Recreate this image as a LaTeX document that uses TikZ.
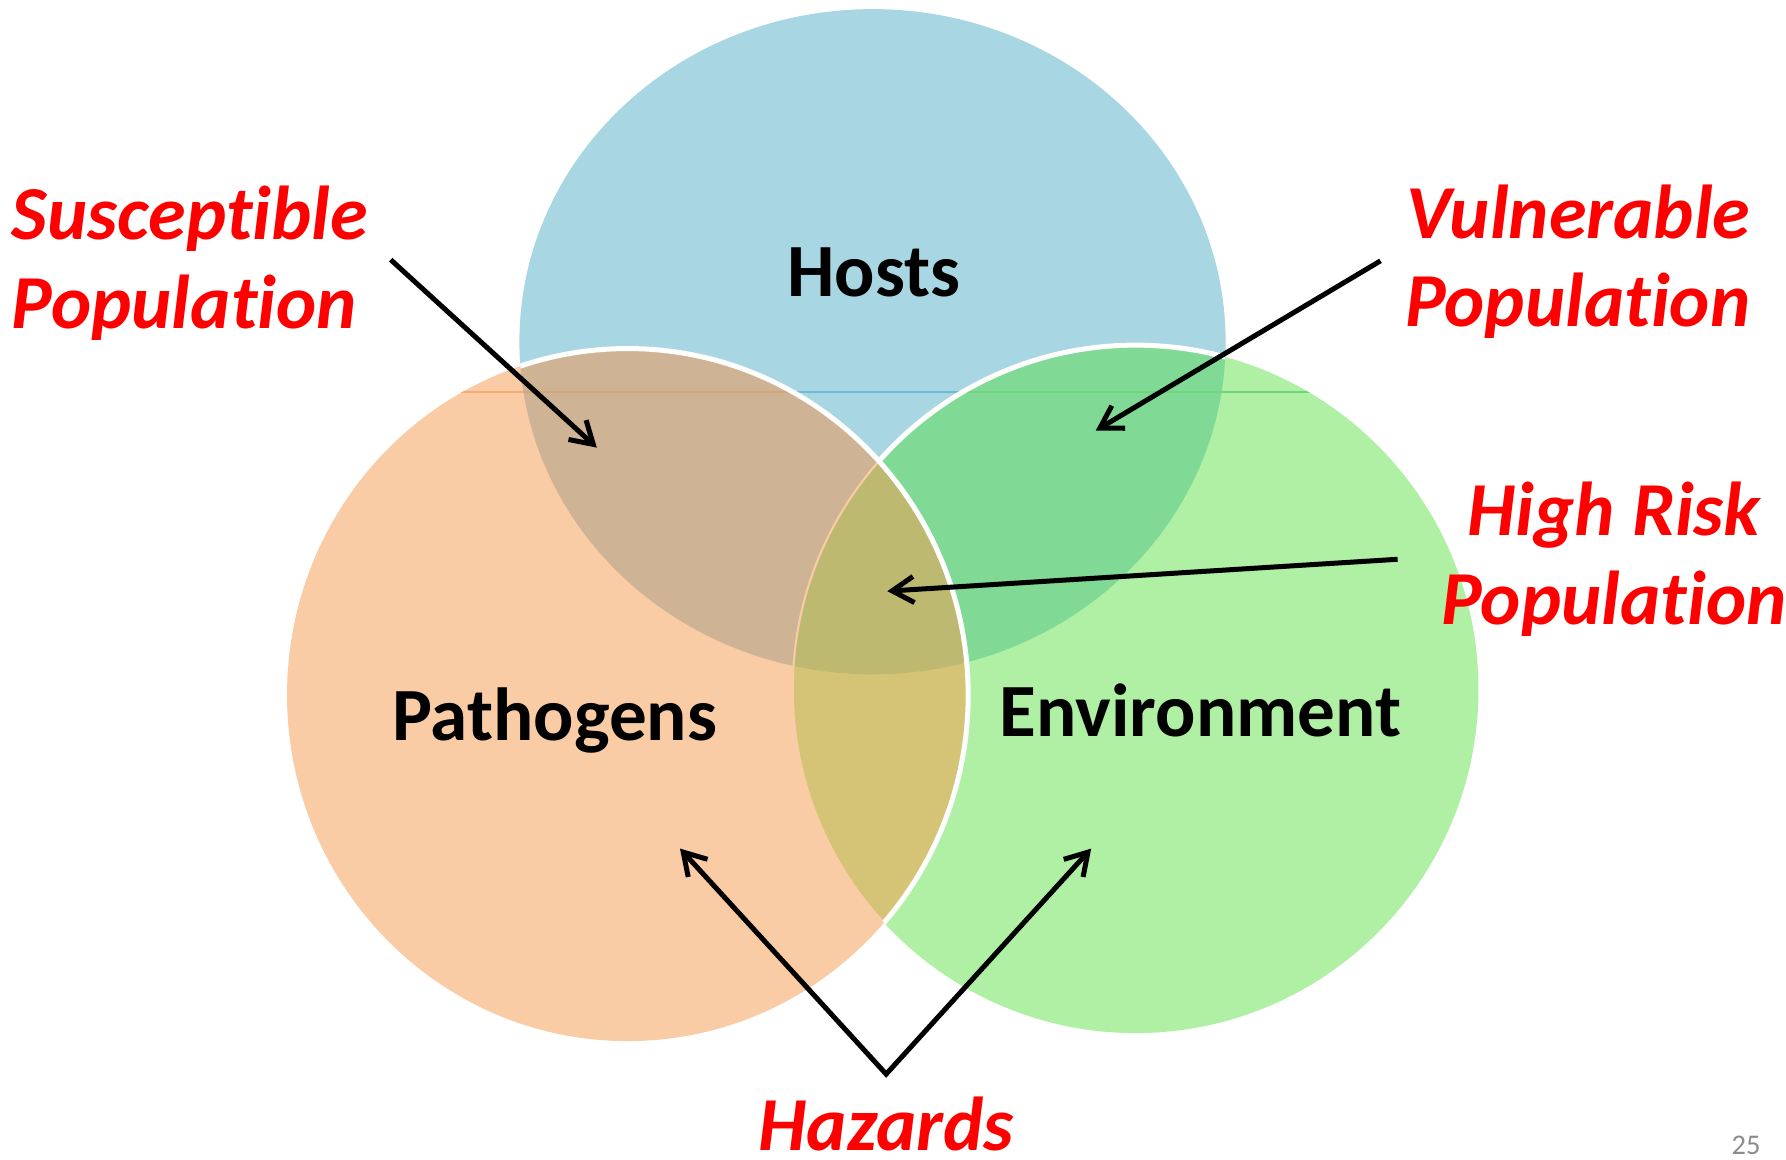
\documentclass[tikz,border=0pt]{standalone}
\usepackage{fontspec}
\setmainfont{Carlito}[Ligatures={NoCommon}]
\usetikzlibrary{arrows.meta}
\definecolor{cblue}{HTML}{A8D6E2}
\definecolor{corange}{HTML}{FACCA5}
\definecolor{cgreen}{HTML}{B0F0A4}
\definecolor{cbo}{HTML}{CEB494}
\definecolor{cbg}{HTML}{80DA96}
\definecolor{cog}{HTML}{D5C476}
\definecolor{call}{HTML}{BEB970}
\definecolor{lblue}{HTML}{6EBBD8}
\definecolor{lorange}{HTML}{F2AC74}
\definecolor{lbrown}{HTML}{D3A47A}
\definecolor{lgreen}{HTML}{6ED77E}
\definecolor{pgray}{HTML}{8C8C8C}
\begin{document}
\begin{tikzpicture}[x=0.5pt,y=-0.5pt,
  redlab/.style={text=red, font=\fontsize{33.5}{38.75}\selectfont\bfseries\itshape, inner sep=0pt},
  blacklab/.style={text=black, font=\fontsize{33}{40}\selectfont\bfseries, inner sep=0pt},
  arr/.style={line width=2.2pt, -{Straight Barb[length=9.5pt,width=11.5pt]}},
  whiteedge/.style={draw=white, line width=2.2pt},
  ]
\fill[white] (0,0) rectangle (1568,1018);
\useasboundingbox (0,0) rectangle (1568,1018);
\def\hostsE{(766,300) ellipse [x radius=310, y radius=292]}
\def\pathE{(551,610) ellipse [x radius=299, y radius=304]}
\def\envE{(997,605) ellipse [x radius=301, y radius=302]}
% base fills
\fill[cblue] \hostsE;
\fill[corange] \pathE;
\fill[cgreen] \envE;
% overlaps
\begin{scope}\clip \hostsE; \fill[cbo] \pathE; \fill[cbg] \envE; \end{scope}
\begin{scope}\clip \pathE; \fill[cog] \envE; \end{scope}
\begin{scope}\clip \hostsE; \clip \pathE; \fill[call] \envE; \end{scope}
% thin orange edge of the environment circle inside pathogens
\begin{scope}\clip \pathE; \draw[corange, line width=0.9pt] \envE; \end{scope}
% faint horizontal seam
\begin{scope}\clip \hostsE; \draw[lblue, line width=0.6pt] (380,344) -- (1180,344); \end{scope}
\begin{scope}\clip \pathE; \draw[lorange, line width=0.6pt] (380,344) -- (1180,344); \end{scope}
\begin{scope}\clip \hostsE; \clip \pathE; \draw[lbrown, line width=0.6pt] (380,344) -- (1180,344); \end{scope}
\begin{scope}\clip \envE; \draw[lgreen, line width=0.6pt] (380,344) -- (1180,344); \end{scope}
% white outlines
\begin{scope}\clip \hostsE \envE; \draw[whiteedge] \pathE; \end{scope}
\begin{scope}[even odd rule]\clip (0,0) rectangle (1568,480); \clip \hostsE \pathE; \draw[whiteedge] \envE; \end{scope}
% labels
\node[blacklab, anchor=base] (hosts) at (767,260.5) {Hosts};
\node[blacklab, anchor=base] (path) at (487,650) {Pathogens};
\node[blacklab, anchor=base] (env) at (1054,647) {Environment};
\node[redlab, anchor=base west, align=left] (sus) at (10,288) {Susceptible\\Population};
\node[redlab, anchor=base east, align=right] (vul) at (1537,287) {Vulnerable\\Population};
\node[redlab, anchor=base, align=center] (high) at (1417,548) {High Risk\\Population};
\node[redlab, anchor=base] (haz) at (778,1010) {Hazards};
\node[text=pgray, anchor=base east, inner sep=0pt, font=\fontsize{12.5}{15}\selectfont] (pg) at (1546,1014) {25};
% arrows
\coordinate (susS) at (343,228); \coordinate (susT) at (524,393);
\coordinate (vulS) at (1212,229); \coordinate (vulT) at (962,378);
\coordinate (highS) at (1227,491); \coordinate (highT) at (779,519);
\coordinate (hazA) at (778,943); \coordinate (hazL) at (597,745); \coordinate (hazR) at (958,745);
\draw[arr] (susS) -- (susT);
\draw[arr] (vulS) -- (vulT);
\draw[arr] (highS) -- (highT);
\draw[line width=2.2pt, line join=miter, {Straight Barb[length=9.5pt,width=11.5pt]}-{Straight Barb[length=9.5pt,width=11.5pt]}] (hazL) -- (hazA) -- (hazR);
\end{tikzpicture}
\end{document}
